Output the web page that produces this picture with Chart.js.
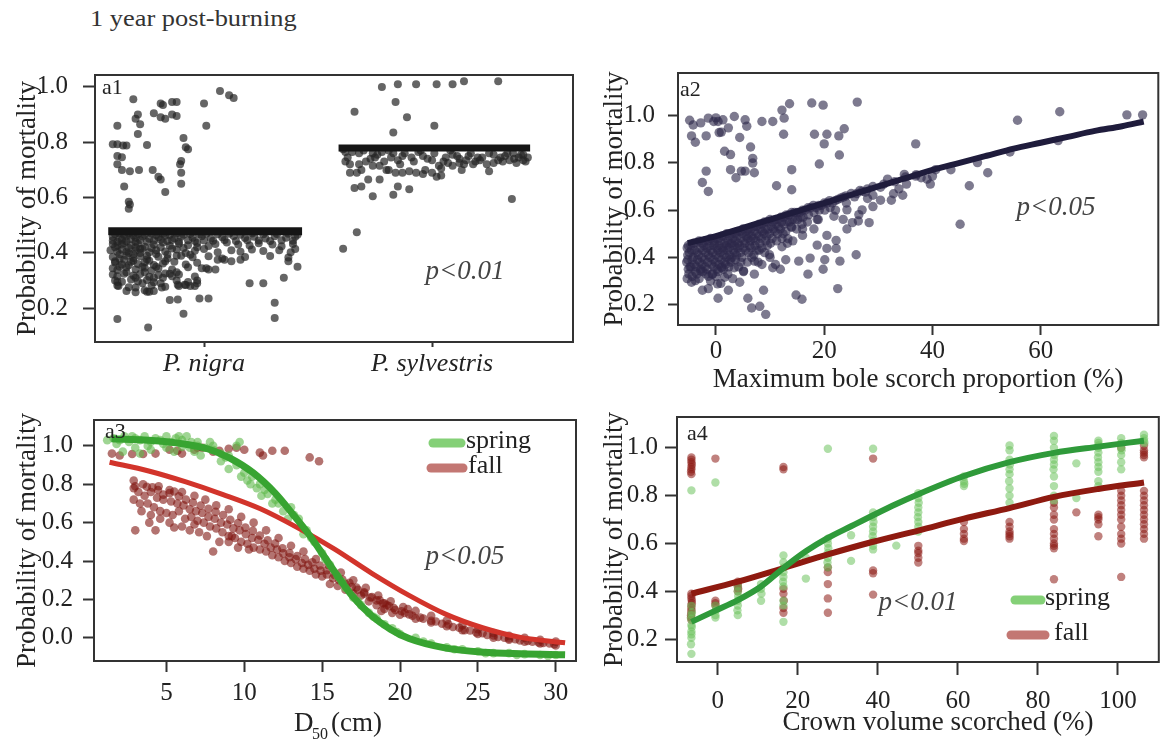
<!DOCTYPE html>
<html>
<head>
<meta charset="utf-8">
<script src="https://cdn.jsdelivr.net/npm/chart.js@4.4.1/dist/chart.umd.min.js"></script>
<style>
  body { margin: 0; background: #fff; width: 1163px; height: 744px; position: relative; overflow: hidden; }
  canvas { position: absolute; }
  #heading { position: absolute; left: 90px; top: 5px; font: 24px "Liberation Serif", serif; color: #333;
             transform: scaleX(1.1); transform-origin: left; white-space: nowrap; }
</style>
</head>
<body>
<div id="heading">1 year post-burning</div>
<canvas id="a1" width="580" height="345" style="left:0;top:45px"></canvas>
<canvas id="a2" width="578" height="352" style="left:585px;top:45px"></canvas>
<canvas id="a3" width="585" height="349" style="left:0;top:395px"></canvas>
<canvas id="a4" width="578" height="349" style="left:585px;top:395px"></canvas>
<script>
// ---- a1: species ----
const species = ["P. nigra", "P. sylvestris"];
const nigraFit = [[0.58, 0.478], [1.43, 0.478]];
const sylvFit = [[1.59, 0.779], [2.43, 0.779]];
const nigraPoints = [
  [0.69,0.955],[0.81,0.94],[0.82,0.935],[0.86,0.945],[0.88,0.945],[1.00,0.94],[1.07,0.985],[1.11,0.97],[1.13,0.96],
  [1.01,0.86],[0.62,0.86],[0.71,0.90],[0.70,0.885],[0.72,0.865],[0.78,0.905],[0.81,0.89],[0.83,0.885],[0.86,0.90],
  [0.88,0.895],[0.71,0.83],[0.60,0.793],[0.62,0.793],[0.645,0.788],[0.66,0.788],[0.75,0.79],[0.91,0.815],[0.92,0.782],
  [0.62,0.75],[0.64,0.746],[0.90,0.732],[0.895,0.72],[0.62,0.72],[0.64,0.70],[0.675,0.695],[0.715,0.70],[0.775,0.70],
  [0.80,0.675],[0.81,0.665],[0.65,0.64],[0.67,0.585],[0.675,0.575],[0.67,0.56],[0.83,0.62],[0.90,0.69],[0.90,0.65],
  [0.93,0.775],
  [0.60,0.458],[0.63,0.452],[0.66,0.461],[0.70,0.455],[0.73,0.459],[0.76,0.451],[0.80,0.457],[0.83,0.462],[0.87,0.453],
  [0.90,0.458],[0.95,0.455],[0.99,0.46],[1.03,0.452],[1.08,0.457],[1.13,0.461],[1.18,0.454],[1.22,0.458],[1.27,0.452],
  [1.31,0.46],[1.36,0.455],[1.40,0.458],
  [0.60,0.432],[0.62,0.425],[0.65,0.436],[0.68,0.428],[0.71,0.434],[0.74,0.422],[0.78,0.43],[0.82,0.438],[0.85,0.426],
  [0.89,0.433],[0.93,0.428],[0.97,0.436],[1.02,0.425],[1.05,0.432],[1.10,0.438],[1.15,0.43],[1.20,0.427],[1.24,0.435],
  [1.30,0.43],[1.34,0.424],[1.39,0.432],
  [0.59,0.41],[0.62,0.404],[0.64,0.412],[0.67,0.4],[0.70,0.408],[0.72,0.415],[0.76,0.402],[0.79,0.41],[0.83,0.405],
  [0.88,0.412],[0.92,0.4],[0.96,0.408],[1.00,0.414],[1.06,0.402],[1.12,0.41],[1.16,0.404],[1.21,0.412],[1.26,0.407],
  [1.33,0.41],[1.38,0.402],[1.40,0.414],
  [0.60,0.385],[0.63,0.378],[0.66,0.39],[0.69,0.382],[0.72,0.388],[0.75,0.376],[0.80,0.386],[0.84,0.38],[0.90,0.39],
  [0.95,0.384],[1.02,0.388],[1.08,0.38],[1.18,0.385],[1.29,0.389],[1.37,0.383],
  [0.61,0.365],[0.64,0.358],[0.68,0.368],[0.71,0.36],[0.74,0.366],[0.78,0.356],[0.82,0.362],[0.87,0.368],[0.92,0.358],
  [0.97,0.364],[1.06,0.375],[1.09,0.375],[1.37,0.37],[1.41,0.35],[1.12,0.37],[1.16,0.375],
  [0.60,0.345],[0.62,0.338],[0.66,0.348],[0.70,0.34],[0.74,0.346],[0.77,0.336],[0.80,0.344],[0.86,0.34],[0.93,0.348],
  [0.99,0.345],[1.02,0.34],[1.01,0.345],[1.05,0.34],
  [0.60,0.322],[0.62,0.316],[0.65,0.325],[0.69,0.318],[0.72,0.324],[0.76,0.314],[0.80,0.32],[0.83,0.326],[0.86,0.316],
  [0.89,0.322],[0.85,0.325],[0.88,0.33],
  [0.61,0.3],[0.64,0.296],[0.68,0.304],[0.71,0.298],[0.75,0.302],[0.78,0.294],[0.81,0.29],[0.88,0.3],[0.93,0.295],
  [0.97,0.3],[1.35,0.31],[1.26,0.29],[1.20,0.29],[0.62,0.295],[0.625,0.28],[0.82,0.31],[0.96,0.315],
  [0.62,0.282],[0.67,0.276],[0.70,0.275],[0.73,0.29],[0.77,0.282],[0.83,0.278],[0.89,0.28],[0.92,0.284],[0.96,0.28],
  [0.94,0.28],[0.915,0.285],[0.885,0.285],[0.97,0.29],[0.815,0.275],
  [0.66,0.262],[0.70,0.258],[0.74,0.265],[0.75,0.26],[0.76,0.26],[0.78,0.262],
  [0.85,0.23],[0.885,0.232],[0.98,0.235],[1.02,0.235],[1.31,0.22],
  [0.91,0.18],[1.31,0.165],[0.62,0.161],[0.755,0.13],
  [0.60,0.445],[0.61,0.468],[0.62,0.44],[0.63,0.47],[0.64,0.448],[0.65,0.465],[0.66,0.442],[0.67,0.47],[0.68,0.45],
  [0.69,0.463],[0.70,0.44],[0.71,0.468],[0.72,0.447],[0.74,0.466],[0.75,0.44],[0.77,0.47],[0.78,0.445],[0.79,0.465],
  [0.81,0.448],[0.82,0.469],[0.84,0.443],[0.85,0.466],[0.86,0.447],[0.88,0.47],[0.89,0.44],[0.91,0.466],[0.93,0.446],
  [0.94,0.468],[0.96,0.443],[0.98,0.467],[1.00,0.445],[1.01,0.469],[1.04,0.444],[1.06,0.467],[1.09,0.447],[1.11,0.469],
  [1.14,0.443],[1.16,0.466],[1.19,0.446],[1.21,0.47],[1.24,0.445],[1.26,0.467],[1.29,0.443],[1.32,0.468],[1.34,0.446],
  [1.37,0.469],[1.39,0.444],[1.41,0.466],
  [0.61,0.42],[0.63,0.395],[0.64,0.43],[0.66,0.405],[0.67,0.418],[0.69,0.395],[0.70,0.42],[0.72,0.4],[0.73,0.415],
  [0.75,0.39],[0.77,0.418],[0.79,0.396],[0.81,0.42],[0.84,0.394],[0.86,0.416],[0.88,0.39],[0.91,0.418],[0.94,0.393],
  [0.97,0.42],[0.61,0.37],[0.63,0.35],[0.65,0.375],[0.67,0.355],[0.69,0.372],[0.73,0.35],[0.76,0.372],[0.79,0.35],
  [0.83,0.37],[0.66,0.33],[0.70,0.31],[0.74,0.33],[0.78,0.31]
];
const sylvPoints = [
  [1.78,1.0],[1.85,1.01],[1.93,1.01],[2.02,1.01],[2.09,1.01],[2.14,1.02],[2.29,1.02],[1.84,0.945],[1.66,0.91],
  [1.89,0.89],[1.83,0.835],[2.01,0.86],
  [1.62,0.765],[1.63,0.745],[1.62,0.73],[1.64,0.69],[1.68,0.72],[1.68,0.76],[1.71,0.73],[1.74,0.76],[1.75,0.745],
  [1.77,0.715],[1.78,0.765],[1.82,0.745],[1.83,0.76],[1.86,0.72],[1.88,0.76],[1.91,0.745],[1.94,0.765],[1.96,0.75],
  [2.00,0.735],[2.03,0.715],[2.06,0.745],[2.09,0.755],[2.12,0.74],[2.16,0.75],[2.19,0.73],[2.22,0.745],[2.25,0.76],
  [2.29,0.735],[2.32,0.75],[2.355,0.76],[2.38,0.745],[2.40,0.735],[2.40,0.755],[2.12,0.725],[2.07,0.725],[2.04,0.705],
  [2.09,0.715],[2.18,0.72],[2.20,0.745],[2.30,0.745],[2.34,0.735],
  [1.74,0.715],[1.80,0.70],[1.84,0.69],[1.90,0.695],[1.93,0.69],[1.96,0.685],[2.00,0.69],[2.04,0.68],[1.81,0.70],
  [1.87,0.69],[1.66,0.635],[1.69,0.64],[1.72,0.665],[1.74,0.605],[1.83,0.61],[1.85,0.64],[1.90,0.63],[1.77,0.665],
  [2.02,0.675],[2.25,0.695],[2.35,0.595],[1.67,0.69],[2.15,0.735],[2.27,0.725],[2.37,0.725],[2.41,0.73],
  [1.61,0.415],[1.67,0.475],
  [1.61,0.775],[1.65,0.765],[1.70,0.77],[1.73,0.74],[1.76,0.755],[1.79,0.73],[1.81,0.77],[1.85,0.735],[1.87,0.75],
  [1.92,0.73],[1.95,0.77],[1.98,0.74],[2.01,0.76],[2.05,0.73],[2.08,0.77],[2.11,0.75],[2.14,0.72],[2.17,0.76],
  [2.21,0.735],[2.24,0.72],[2.27,0.755],[2.31,0.73],[2.33,0.76],[2.36,0.74],[2.39,0.755],[2.42,0.745],[1.64,0.72],
  [1.69,0.70],[1.97,0.70],[2.13,0.70]
];

// ---- a2: maximum bole scorch ----
const scorchTicks = [0, 20, 40, 60];
const scorchFit = [[-5.2,0.46],[0,0.49],[5,0.525],[10,0.56],[15,0.595],[20,0.63],[25,0.665],[30,0.70],[35,0.735],
  [40,0.77],[45,0.80],[50,0.83],[55,0.86],[60,0.885],[65,0.91],[70,0.935],[75,0.955],[79,0.975]];
const scorchPoints = [
  [-4.85,0.98],[-4.5,0.914],[-3.8,0.887],[-2.8,0.969],[-1.4,0.989],[-0.4,0.975],[0.6,0.928],[1.3,0.982],[2.3,0.948],
  [3.4,0.996],[4.4,0.907],[5.4,0.982],[5.7,0.955],[6.4,0.867],[8.5,0.975],[10.5,0.975],[12.2,1.023],[12.6,0.989],
  [13.6,1.05],[12.5,0.921],[17.7,1.053],[19.8,1.044],[20.0,0.88],[18.2,0.921],[20.5,0.921],[22.7,0.914],[23.7,0.944],
  [22.8,0.833],[19.1,0.795],[26.1,1.057],[14.0,0.771],[11.2,0.703],[14.0,0.686],[-1.8,0.765],[-2.5,0.717],[-1.4,0.679],
  [1.6,0.849],[2.7,0.835],[2.7,0.771],[3.7,0.737],[4.7,0.765],[5.4,0.765],[6.8,0.819],[6.8,0.799],[7.1,0.758],
  [0.4,0.975],[-1.8,0.914],[-4.2,0.96],[0.0,0.99],[1.0,0.93],
  [36.9,0.88],[36.9,0.744],[40.0,0.744],[40.6,0.771],[39.6,0.71],[43.4,0.771],[46.8,0.703],[48.3,0.801],[50.2,0.758],
  [45.1,0.54],[54.3,0.846],[55.7,0.98],[63.2,0.894],[63.5,1.016],[75.9,1.003],[78.8,1.003],[34.8,0.751],[32.8,0.669],
  [33.8,0.69],[31.7,0.731],[30.4,0.697],[29.0,0.663],[28.0,0.649],[27.6,0.676],[26.6,0.683],[25.6,0.656],[28.3,0.547],
  [26.4,0.581],[26.3,0.554],[25.9,0.411],[22.5,0.268],[24.2,0.601],[22.2,0.472],[20.5,0.493],[20.1,0.39],[19.8,0.35],
  [17.4,0.397],[17.0,0.329],[15.3,0.384],[14.8,0.241],[15.9,0.223],[12.9,0.39],[11.9,0.35],[10.5,0.356],[8.8,0.261],
  [8.1,0.193],[9.2,0.159],[6.6,0.186],[5.9,0.227],[0.4,0.227],[22.9,0.384],[18.7,0.452],[16.0,0.493],[23.5,0.561],
  [21.8,0.574],[18.7,0.561],[16.0,0.52],[18.1,0.52],[14.0,0.527],[13.3,0.479],[12.2,0.445],[9.9,0.411],[8.5,0.37],
  [7.1,0.329],[7.1,0.384],[4.4,0.295],[2.3,0.261],[1.6,0.316],[0.3,0.288],[-1.4,0.268],[-2.5,0.261],[-4.5,0.295],
  [-3.8,0.302],[-0.7,0.329],[1.0,0.356],[3.4,0.356],[5.1,0.343],[-2.8,0.343],[22.2,0.438],[20.5,0.438],[24.2,0.52],
  [25.2,0.547],[27.0,0.601],[29.0,0.615],[30.4,0.642],[32.4,0.642],[34.5,0.663],[35.2,0.71],[37.9,0.737],[39.0,0.731],
  [-5.1,0.45],[-4.9,0.42],[-5.2,0.39],[-4.8,0.36],[-5.0,0.33],[-4.1,0.46],[-3.9,0.43],[-4.2,0.40],[-4.0,0.37],[-3.8,0.34],
  [-3.1,0.47],[-2.9,0.44],[-3.2,0.41],[-3.0,0.38],[-2.8,0.35],[-3.1,0.31],[-2.0,0.47],[-2.2,0.45],[-1.9,0.42],[-2.1,0.39],
  [-2.0,0.36],[-1.8,0.33],[-1.0,0.48],[-1.2,0.45],[-0.9,0.43],[-1.1,0.40],[-0.8,0.37],[-1.0,0.30],[0.1,0.48],[-0.2,0.46],
  [0.2,0.44],[0.0,0.41],[-0.1,0.38],[0.2,0.35],[0.0,0.32],[1.1,0.49],[0.9,0.47],[1.2,0.44],[0.8,0.42],[1.0,0.39],
  [1.1,0.36],[0.9,0.29],[2.0,0.50],[2.2,0.47],[1.9,0.45],[2.1,0.43],[2.0,0.40],[1.8,0.37],[2.2,0.33],[3.0,0.50],
  [3.1,0.48],[2.9,0.46],[3.2,0.43],[3.0,0.40],[2.8,0.38],[3.1,0.31],[4.0,0.51],[3.9,0.49],[4.1,0.46],[4.0,0.44],
  [3.8,0.41],[4.2,0.36],[5.0,0.52],[4.9,0.50],[5.2,0.47],[5.0,0.44],[4.8,0.40],[5.1,0.34],[6.0,0.52],[6.1,0.50],
  [5.9,0.48],[6.2,0.45],[6.0,0.42],[5.8,0.38],[7.0,0.53],[7.1,0.51],[6.9,0.48],[7.2,0.45],[7.0,0.41],[8.0,0.54],
  [8.2,0.52],[7.9,0.49],[8.1,0.46],[8.0,0.43],[7.8,0.38],[9.0,0.55],[9.1,0.52],[8.9,0.50],[9.2,0.47],[9.0,0.42],
  [10.0,0.56],[10.2,0.53],[9.9,0.50],[10.1,0.46],[10.0,0.40],[11.0,0.56],[11.1,0.54],[10.9,0.51],[11.2,0.47],[11.0,0.37],
  [12.0,0.57],[12.1,0.55],[11.9,0.52],[12.2,0.48],[13.0,0.58],[13.1,0.55],[12.9,0.51],[13.2,0.46],[14.0,0.59],[14.1,0.56],
  [13.9,0.53],[14.2,0.47],[15.0,0.59],[15.1,0.56],[14.9,0.52],[16.0,0.60],[16.1,0.57],[15.9,0.54],[17.0,0.61],[17.1,0.58],
  [16.9,0.55],[18.0,0.62],[18.1,0.59],[19.0,0.62],[19.1,0.60],[18.9,0.56],[20.0,0.63],[20.1,0.60],[21.0,0.64],[21.1,0.61],
  [22.0,0.64],[22.1,0.60],[23.0,0.65],[24.0,0.66],[24.1,0.63],[25.0,0.67],[26.0,0.67],[27.0,0.68],[28.0,0.69],[29.0,0.70],
  [31.0,0.71],[33.0,0.72],[35.0,0.74],[37.0,0.75],
  [-5.3,0.44],[-5.2,0.41],[-5.4,0.38],[-5.1,0.35],[-5.3,0.31],[-4.6,0.45],[-4.5,0.43],[-4.4,0.39],[-4.6,0.36],
  [-4.4,0.32],[-3.6,0.46],[-3.5,0.42],[-3.4,0.39],[-3.6,0.36],[-3.5,0.33],[-2.5,0.46],[-2.4,0.43],[-2.6,0.40],
  [-2.5,0.37],[-2.4,0.34],[-1.5,0.47],[-1.6,0.44],[-1.4,0.41],[-1.5,0.38],[-1.6,0.35],[-1.4,0.32],[-0.5,0.47],
  [-0.4,0.45],[-0.6,0.42],[-0.5,0.39],[-0.4,0.36],[-0.6,0.33],[0.5,0.48],[0.6,0.45],[0.4,0.43],[0.5,0.40],[0.6,0.37],
  [0.4,0.34],[1.5,0.49],[1.6,0.46],[1.4,0.43],[1.5,0.41],[1.6,0.38],[1.4,0.35],[2.5,0.49],[2.6,0.46],[2.4,0.44],
  [2.5,0.41],[2.6,0.39],[2.4,0.36],[3.5,0.50],[3.6,0.47],[3.4,0.45],[3.5,0.42],[3.6,0.39],[4.5,0.51],[4.6,0.48],
  [4.4,0.45],[4.5,0.42],[4.6,0.38],[5.5,0.51],[5.6,0.49],[5.4,0.46],[5.5,0.43],[6.5,0.52],[6.6,0.49],[6.4,0.47],
  [6.5,0.44],[6.6,0.40],[7.5,0.53],[7.6,0.50],[7.4,0.47],[7.5,0.43],[8.5,0.54],[8.6,0.51],[8.4,0.48],[8.5,0.44],
  [9.5,0.55],[9.6,0.52],[9.4,0.49],[9.5,0.45],[10.5,0.55],[10.6,0.52],[10.4,0.48],[11.5,0.56],[11.6,0.53],[11.4,0.50],
  [12.5,0.57],[12.6,0.54],[12.4,0.50],[13.5,0.58],[13.6,0.55],[14.5,0.59],[14.6,0.56],[15.5,0.59],[15.6,0.57],
  [16.5,0.60],[17.5,0.61],[18.5,0.61],[19.5,0.62],[20.5,0.63],[21.5,0.63],[22.5,0.645],[23.5,0.655]
];

// ---- a3: D50 ----
const diamTicks = [5, 10, 15, 20, 25, 30];
const springFitD = [[1.47,1.037],[3.86,1.03],[6.25,1.009],[7.68,0.984],[9.11,0.935],[10.55,0.861],[11.98,0.754],
  [13.17,0.639],[14.13,0.541],[14.84,0.459],[15.8,0.344],[16.99,0.212],[18.19,0.114],[19.38,0.045],[20.58,-0.004],
  [22.96,-0.054],[25.35,-0.075],[27.74,-0.083],[30.6,-0.088]];
const fallFitD = [[1.35,0.915],[3.86,0.869],[6.25,0.812],[8.64,0.746],[11.03,0.672],[13.41,0.574],[15.8,0.462],
  [18.19,0.336],[20.58,0.221],[22.96,0.122],[25.35,0.051],[27.74,0.002],[30.6,-0.026]];
const springPointsD = [
  [1.2,1.03],[1.6,1.04],[2.0,1.03],[2.3,1.05],[2.6,1.02],[3.0,1.04],[3.3,1.03],[3.6,1.05],[4.0,1.02],[4.3,1.04],
  [4.6,1.03],[5.0,1.05],[5.3,1.02],[5.6,1.04],[6.0,1.03],[6.3,1.05],[6.6,1.02],[7.0,1.02],[2.2,0.97],[3.3,0.96],
  [3.0,0.99],[4.0,0.98],[5.0,0.99],[5.5,0.97],[6.0,0.995],[7.0,1.0],[7.5,0.99],[8.0,0.98],[8.5,0.96],[9.0,0.95],
  [9.5,1.0],[9.7,1.02],[8.0,1.0],[6.8,0.97],[7.2,0.95],[8.5,0.92],[9.0,0.88],[9.5,0.9],[10.0,0.86],[10.2,0.82],
  [10.5,0.84],[11.0,0.8],[11.3,0.77],[11.5,0.75],[12.0,0.72],[12.2,0.70],[9.8,0.84],[10.8,0.78],[11.8,0.70],[12.5,0.66],
  [13.0,0.68],[13.5,0.62],[14.0,0.56],[14.5,0.50],[15.0,0.44],[15.5,0.38],[16.0,0.32],[16.5,0.26],[17.0,0.21],[17.5,0.17],
  [18.0,0.13],[18.5,0.10],[19.0,0.07],[19.5,0.05],[20.0,0.02],[21.0,0.0],[22.0,-0.03],[23.0,-0.05],[24.0,-0.06],
  [25.0,-0.07],[26.0,-0.08],[27.0,-0.08],[28.0,-0.085],[29.0,-0.09],[30.0,-0.09],[13.2,0.64],[14.3,0.52],[15.2,0.41],
  [16.3,0.29],[17.3,0.19],[18.3,0.11],[19.8,0.03],[21.5,-0.02],[23.5,-0.06],[25.5,-0.08],[27.5,-0.09],[29.5,-0.095],
  [1.8,1.01],[2.8,1.05],[3.8,1.0],[4.8,1.01],[5.8,1.05],[6.5,0.99],[7.8,1.02],[8.8,0.94],[10.4,0.8],[11.1,0.74],
  [12.8,0.62],[13.8,0.54]
];
const fallPointsD = [
  [1.5,0.96],[2.0,0.95],[2.8,0.958],[3.5,0.958],[4.3,0.96],[5.2,0.98],[5.7,0.975],[6.0,0.96],[6.8,0.98],[7.0,0.99],
  [7.3,0.99],[8.0,0.97],[8.4,0.975],[9.0,0.985],[9.5,0.99],[10.0,0.98],[11.0,0.965],[11.2,0.95],[11.8,0.975],
  [12.6,0.975],[14.2,0.94],[14.8,0.92],
  [2.9,0.82],[3.0,0.79],[3.74,0.787],[4.1,0.784],[4.46,0.77],[4.8,0.746],[5.2,0.754],[5.5,0.762],[5.8,0.738],
  [6.25,0.72],[6.7,0.705],[7.2,0.689],[7.7,0.672],[8.16,0.656],[8.64,0.64],[9.1,0.615],[9.6,0.598],[10.07,0.574],
  [10.55,0.557],[11.0,0.533],[11.5,0.508],[11.98,0.491],[12.45,0.467],[12.9,0.442],[13.4,0.426],[13.9,0.41],
  [14.37,0.393],[14.85,0.377],[15.3,0.352],[15.8,0.327],[16.3,0.303],[16.75,0.286],[17.2,0.262],[17.7,0.237],
  [18.2,0.212],[18.7,0.196],[19.14,0.171],[19.6,0.155],[20.1,0.138],[20.58,0.122],[21.3,0.105],[22.0,0.089],
  [22.7,0.073],[23.4,0.056],[24.15,0.04],[24.9,0.028],[25.6,0.015],[26.3,0.004],[27.0,-0.004],[27.7,-0.014],
  [28.5,-0.021],[29.2,-0.027],[29.9,-0.034],
  [2.9,0.72],[3.3,0.70],[3.8,0.70],[4.2,0.68],[4.6,0.66],[5.0,0.65],[5.4,0.64],[5.8,0.66],[6.2,0.62],[6.6,0.63],
  [7.0,0.61],[7.4,0.60],[7.8,0.58],[8.2,0.57],[8.6,0.55],[9.0,0.53],[9.4,0.52],[9.8,0.50],[10.2,0.49],[10.6,0.47],
  [11.0,0.46],[11.4,0.45],[11.8,0.43],[12.2,0.42],[12.6,0.40],[13.0,0.39],[13.4,0.37],[13.8,0.36],[14.2,0.35],
  [14.6,0.33],[15.0,0.32],[8.0,0.45],[5.5,0.575],[4.3,0.56],[3.0,0.56],[9.2,0.53],[6.8,0.59],[7.1,0.55],[9.0,0.50],
  [10.3,0.46],[15.5,0.28],[16.0,0.27],[16.5,0.25],[17.0,0.23],[17.5,0.22],[18.0,0.19],[18.5,0.17],[19.0,0.15],
  [19.5,0.13],[20.0,0.12],[21.0,0.10],[22.0,0.08],[23.0,0.06],[24.0,0.04],[25.0,0.02],[26.0,0.0],[27.0,-0.01],
  [28.0,-0.02],[29.0,-0.03],[30.0,-0.04],
  [3.5,0.80],[4.5,0.79],[5.2,0.77],[6.0,0.76],[6.8,0.74],[7.5,0.72],[8.2,0.69],[9.0,0.67],[9.8,0.63],[10.6,0.60],
  [11.4,0.56],[12.2,0.52],[13.0,0.48],[13.8,0.45],[14.6,0.41],[15.4,0.38],[16.2,0.34],[17.0,0.30],[17.8,0.26],
  [18.6,0.22],[19.4,0.19],[20.2,0.16],[21.0,0.14],[22.0,0.115],[23.0,0.09],[24.0,0.065],[25.0,0.045],[26.0,0.025],
  [27.0,0.01],[28.0,0.0],[29.0,-0.01],[30.0,-0.02],[19.0,0.18],[20.5,0.15],[18.8,0.14],
  [3.2,0.76],[3.6,0.74],[4.0,0.76],[4.4,0.73],[4.8,0.72],[5.3,0.71],[5.7,0.70],[6.1,0.69],[6.5,0.67],[6.9,0.66],
  [7.3,0.65],[7.7,0.63],[8.1,0.62],[8.5,0.60],[8.9,0.59],[9.3,0.57],[9.7,0.56],[10.1,0.54],[10.5,0.52],[10.9,0.51],
  [11.3,0.49],[11.7,0.47],[12.1,0.46],[12.5,0.44],[12.9,0.42],[13.3,0.41],[13.7,0.39],[14.1,0.38],[14.5,0.36],
  [14.9,0.35],[15.3,0.33],[15.7,0.31],[16.1,0.30],[16.5,0.28],[16.9,0.265],[17.3,0.25],[17.7,0.23],[18.1,0.21],
  [18.5,0.195],[18.9,0.18],[19.3,0.165],[19.7,0.145],[20.3,0.13],[20.8,0.115],[21.5,0.1],[22.3,0.085],[23.1,0.07],
  [23.8,0.052],[24.5,0.038],[25.3,0.024],[26.0,0.012],[26.7,0.0],[27.4,-0.008],[28.2,-0.016],[28.9,-0.024],[29.6,-0.03],
  [3.4,0.66],[4.0,0.64],[4.6,0.62],[5.2,0.6],[6.0,0.58],[6.5,0.56],[7.6,0.53],[8.4,0.5],[9.6,0.47],[3.9,0.6],[2.9,0.78]
];

// ---- a4: crown volume scorched ----
const crownTicks = [0, 20, 40, 60, 80, 100];
const springFitC = [[-6.6,0.272],[-0.6,0.319],[5,0.363],[10.8,0.42],[16.4,0.497],[22,0.567],[27.5,0.623],[33.3,0.672],
  [38.8,0.718],[44.6,0.765],[50.1,0.806],[61.5,0.882],[72.9,0.94],[84,0.979],[95.1,1.005],[106.5,1.03]];
const fallFitC = [[-6.6,0.39],[5,0.44],[16.4,0.497],[27.5,0.554],[38.8,0.607],[50.1,0.654],[61.5,0.704],[72.9,0.748],
  [84,0.795],[95.1,0.828],[106.5,0.855]];
const springPointsC = [
  [-6.6,0.822],[-6.6,0.339],[-6.5,0.312],[-6.6,0.30],[-6.7,0.285],[-6.6,0.259],[-6.5,0.25],[-6.6,0.232],[-6.6,0.22],
  [-6.6,0.205],[-6.7,0.178],[-6.6,0.138],[-0.6,0.855],[-0.6,0.34],[-0.5,0.32],[-0.6,0.30],[-0.6,0.29],
  [5.0,0.42],[5.0,0.40],[5.1,0.38],[5.0,0.36],[5.0,0.34],[4.9,0.32],[5.0,0.30],[10.8,0.43],[10.8,0.41],[10.9,0.39],
  [10.8,0.36],[16.4,0.55],[16.4,0.52],[16.5,0.50],[16.4,0.48],[16.4,0.46],[16.3,0.44],[16.4,0.42],[16.4,0.36],
  [16.4,0.34],[16.4,0.272],[22.0,0.54],[22.0,0.453],[27.5,0.996],[27.5,0.62],[27.5,0.60],[27.6,0.58],[27.5,0.56],
  [27.5,0.54],[27.4,0.52],[27.5,0.50],[33.3,0.634],[33.3,0.527],[38.8,0.996],[38.8,0.73],[38.8,0.71],[38.9,0.69],
  [38.8,0.67],[38.8,0.65],[38.7,0.63],[38.8,0.61],[38.8,0.59],[38.8,0.575],[44.6,0.591],[50.1,0.81],[50.1,0.79],
  [50.2,0.77],[50.1,0.75],[50.1,0.73],[50.0,0.71],[50.1,0.69],[50.1,0.67],[50.1,0.65],[61.5,0.88],[61.5,0.86],
  [61.6,0.85],[61.5,0.84],[72.9,1.01],[72.9,0.99],[72.9,0.95],[73.0,0.93],[72.9,0.91],[72.9,0.89],[72.8,0.86],
  [72.9,0.83],[72.9,0.80],[72.9,0.77],[84.0,1.05],[84.0,1.03],[84.0,1.0],[84.1,0.97],[84.0,0.95],[84.0,0.93],
  [83.9,0.91],[84.0,0.88],[84.0,0.84],[84.0,0.80],[84.0,0.78],[89.6,0.935],[89.6,0.79],[95.1,1.03],[95.1,1.02],
  [95.2,1.01],[95.1,1.0],[95.1,0.98],[95.0,0.96],[95.1,0.94],[95.1,0.92],[95.1,0.90],[95.1,0.86],[95.1,0.84],
  [100.8,1.04],[100.8,1.02],[100.8,1.0],[100.9,0.99],[100.8,0.97],[100.8,0.94],[100.8,0.91],[106.5,1.055],
  [106.5,1.04],[106.5,1.03],[106.6,1.02]
];
const fallPointsC = [
  [-6.6,0.96],[-6.6,0.95],[-6.6,0.94],[-6.5,0.93],[-6.6,0.92],[-6.6,0.91],[-6.7,0.90],[-6.6,0.89],[-6.6,0.39],
  [-6.6,0.38],[-6.6,0.37],[-6.5,0.36],[-6.5,0.35],[-6.6,0.34],[-6.6,0.33],[-6.6,0.32],[-6.6,0.31],[-6.7,0.30],
  [-6.7,0.29],[-6.6,0.28],[-0.6,0.955],[-0.6,0.36],[-0.6,0.35],[-0.6,0.34],[5.0,0.44],[5.0,0.43],[5.0,0.42],
  [5.1,0.41],[5.0,0.40],[16.4,0.92],[16.4,0.91],[16.4,0.41],[16.4,0.39],[16.5,0.36],[16.4,0.33],[16.4,0.31],
  [27.5,0.50],[27.5,0.48],[27.5,0.43],[27.5,0.37],[27.5,0.31],[38.8,0.955],[38.8,0.487],[38.8,0.475],[38.8,0.386],
  [50.1,0.59],[50.1,0.57],[50.1,0.56],[50.1,0.54],[50.1,0.52],[61.5,0.69],[61.5,0.66],[61.5,0.64],[61.5,0.62],
  [61.5,0.61],[72.9,0.69],[72.9,0.67],[72.9,0.65],[72.9,0.64],[72.9,0.63],[72.9,0.62],[84.0,0.77],[84.0,0.75],
  [84.0,0.72],[84.0,0.70],[84.0,0.66],[84.0,0.64],[84.0,0.62],[84.0,0.60],[84.0,0.59],[84.0,0.58],[84.0,0.45],
  [89.6,0.73],[95.1,0.72],[95.1,0.71],[95.1,0.70],[95.1,0.68],[95.1,0.63],[100.8,1.0],[100.8,0.82],[100.8,0.80],
  [100.8,0.78],[100.8,0.76],[100.8,0.74],[100.8,0.72],[100.8,0.70],[100.8,0.67],[100.8,0.64],[100.8,0.62],
  [100.8,0.60],[100.8,0.46],[106.5,1.01],[106.5,0.99],[106.5,0.98],[106.5,0.97],[106.5,0.96],[106.5,0.82],
  [106.5,0.80],[106.5,0.78],[106.5,0.76],[106.5,0.74],[106.5,0.72],[106.5,0.70],[106.5,0.68],[106.5,0.66],
  [106.5,0.64],[106.5,0.62]
];

const probTicks = [0.2, 0.4, 0.6, 0.8, 1.0];
const probTicksD = [0.0, 0.2, 0.4, 0.6, 0.8, 1.0];

const serif = "'Liberation Serif', 'Times New Roman', serif";
Chart.defaults.font.family = serif;
Chart.defaults.color = "#222";

const xy = (arr) => arr.map((p) => ({ x: p[0], y: p[1] }));

// frame, annotation text and legend keys
const decoPlugin = {
  id: "deco",
  afterDatasetsDraw(chart, args, opts) {
    const { ctx, chartArea: a } = chart;
    ctx.save();
    ctx.strokeStyle = "#333";
    ctx.lineWidth = 2;
    ctx.strokeRect(a.left, a.top, a.right - a.left, a.bottom - a.top);
    (opts.keys || []).forEach((k) => {
      ctx.strokeStyle = k.color;
      ctx.lineWidth = 9;
      ctx.lineCap = "round";
      ctx.beginPath();
      ctx.moveTo(k.x1, k.y);
      ctx.lineTo(k.x2, k.y);
      ctx.stroke();
    });
    (opts.texts || []).forEach((t) => {
      ctx.font = t.font;
      ctx.fillStyle = t.color || "#222";
      ctx.textAlign = t.align || "left";
      ctx.textBaseline = "middle";
      ctx.fillText(t.text, t.x, t.y);
    });
    ctx.restore();
  },
};
Chart.register(decoPlugin);

function yAxis(min, max, ticks, width, pad, titlePad, tickLen) {
  return {
    type: "linear", min: min, max: max,
    afterFit: (s) => { s.width = width; },
    afterBuildTicks: (s) => { s.ticks = ticks.map((v) => ({ value: v })); },
    grid: { drawOnChartArea: false, tickLength: tickLen, tickWidth: 2, tickColor: "#333" },
    border: { display: false },
    ticks: { padding: pad, font: { size: 25 }, color: "#222", callback: (v) => v.toFixed(1) },
    title: { display: true, text: "Probability of mortality", font: { size: 27 }, color: "#222", padding: { top: titlePad } },
  };
}

function xAxis(min, max, ticks, height, pad, tickLen, extra) {
  return Object.assign({
    type: "linear", min: min, max: max,
    afterFit: (s) => { s.height = height; },
    afterBuildTicks: (s) => { s.ticks = ticks.map((v) => ({ value: v })); },
    grid: { drawOnChartArea: false, tickLength: tickLen, tickWidth: 2, tickColor: "#333" },
    border: { display: false },
    ticks: { padding: pad, font: { size: 25 }, color: "#222", maxRotation: 0, autoSkip: false },
  }, extra || {});
}

function baseOptions(padTop, padRight, scales, deco) {
  return {
    responsive: false, animation: false, events: [],
    layout: { padding: { top: padTop, right: padRight, left: 0, bottom: 0 } },
    plugins: { legend: { display: false }, tooltip: { enabled: false }, deco: deco },
    scales: scales,
  };
}

const pText = "italic 27px " + serif;
const tagText = "22px " + serif;
const keyText = "26px " + serif;

// a1
new Chart(document.getElementById("a1"), {
  type: "scatter",
  data: {
    datasets: [
      { data: xy(nigraFit), showLine: true, borderColor: "#151515", borderWidth: 8, pointRadius: 0, order: 0 },
      { data: xy(sylvFit), showLine: true, borderColor: "#151515", borderWidth: 7, pointRadius: 0, order: 0 },
      { data: xy(nigraPoints), backgroundColor: "rgba(35,35,35,0.7)", pointRadius: 4, borderWidth: 0, order: 1 },
      { data: xy(sylvPoints), backgroundColor: "rgba(35,35,35,0.7)", pointRadius: 4, borderWidth: 0, order: 1 },
    ],
  },
  options: baseOptions(22, 7, {
    x: xAxis(0.522, 2.618, [1, 2], 48, 2, 5, {
      ticks: { padding: 2, font: { size: 26, style: "italic" }, color: "#222", maxRotation: 0, autoSkip: false,
               callback: (v) => species[v - 1] },
    }),
    y: yAxis(0.078, 1.043, probTicks, 95, 15, 12, 12),
  }, {
    texts: [
      { text: "a1", x: 102, y: 43, font: tagText },
      { text: "p<0.01", x: 465, y: 227, font: pText, color: "#444", align: "center" },
    ],
  }),
});

// a2
new Chart(document.getElementById("a2"), {
  type: "scatter",
  data: {
    datasets: [
      { data: xy(scorchFit), showLine: true, borderColor: "#1f1c3c", borderWidth: 6, pointRadius: 0,
        cubicInterpolationMode: "monotone", order: 0 },
      { data: xy(scorchPoints), backgroundColor: "rgba(45,40,75,0.62)", pointRadius: 4.7, borderWidth: 0, order: 1 },
    ],
  },
  options: baseOptions(20, 4, {
    x: xAxis(-7.0, 81.7, scorchTicks, 72, 1, 10, {
      title: { display: true, text: "Maximum bole scorch proportion (%)", font: { size: 27 }, color: "#222",
               padding: { top: 0, bottom: 1 } },
    }),
    y: yAxis(0.114, 1.18, probTicks, 93, 13, 14, 10),
  }, {
    texts: [
      { text: "a2", x: 95, y: 45, font: tagText },
      { text: "p<0.05", x: 471, y: 163, font: pText, color: "#444", align: "center" },
    ],
  }),
});

// a3
new Chart(document.getElementById("a3"), {
  type: "scatter",
  data: {
    datasets: [
      { data: xy(springFitD), showLine: true, borderColor: "#38a431", borderWidth: 7, pointRadius: 0,
        cubicInterpolationMode: "monotone", order: 0 },
      { data: xy(fallFitD), showLine: true, borderColor: "#d2342b", borderWidth: 5, pointRadius: 0,
        cubicInterpolationMode: "monotone", order: 1 },
      { data: xy(springPointsD), backgroundColor: "rgba(95,185,75,0.6)", pointRadius: 4.3, borderWidth: 0, order: 2 },
      { data: xy(fallPointsD), backgroundColor: "rgba(128,22,16,0.6)", pointRadius: 4.3, borderWidth: 0, order: 3 },
    ],
  },
  options: baseOptions(11, 9, {
    x: xAxis(0.35, 31.3, diamTicks, 83, 6, 11),
    y: yAxis(-0.121, 1.135, probTicksD, 94, 10, 12, 11),
  }, {
    keys: [
      { x1: 433, x2: 461, y: 48, color: "rgba(110,200,95,0.85)" },
      { x1: 431, x2: 463, y: 73, color: "rgba(185,95,90,0.85)" },
    ],
    texts: [
      { text: "a3", x: 105, y: 37, font: tagText },
      { text: "spring", x: 466, y: 46, font: keyText },
      { text: "fall", x: 468, y: 71, font: keyText },
      { text: "p<0.05", x: 465, y: 162, font: pText, color: "#444", align: "center" },
      { text: "D", x: 294, y: 329, font: "27px " + serif },
      { text: "50", x: 312, y: 340, font: "16px " + serif },
      { text: "(cm)", x: 331, y: 329, font: "27px " + serif },
    ],
  }),
});

// a4
new Chart(document.getElementById("a4"), {
  type: "scatter",
  data: {
    datasets: [
      { data: xy(springFitC), showLine: true, borderColor: "#2f9a3a", borderWidth: 6, pointRadius: 0,
        cubicInterpolationMode: "monotone", order: 0 },
      { data: xy(fallFitC), showLine: true, borderColor: "#8e1a10", borderWidth: 6, pointRadius: 0,
        cubicInterpolationMode: "monotone", order: 1 },
      { data: xy(springPointsC), backgroundColor: "rgba(110,195,95,0.55)", pointRadius: 4.2, borderWidth: 0, order: 2 },
      { data: xy(fallPointsC), backgroundColor: "rgba(140,25,20,0.55)", pointRadius: 4.2, borderWidth: 0, order: 3 },
    ],
  },
  options: baseOptions(12, 3, {
    x: xAxis(-10.2, 110.2, crownTicks, 82, 11, 13),
    y: yAxis(0.104, 1.129, probTicks, 92, 7, 14, 12),
  }, {
    keys: [
      { x1: 430, x2: 456, y: 205, color: "rgba(110,200,95,0.85)" },
      { x1: 426, x2: 460, y: 240, color: "rgba(185,95,90,0.85)" },
    ],
    texts: [
      { text: "a4", x: 102, y: 39, font: tagText },
      { text: "spring", x: 460, y: 203, font: keyText },
      { text: "fall", x: 469, y: 238, font: keyText },
      { text: "p<0.01", x: 333, y: 208, font: pText, color: "#444", align: "center" },
      { text: "Crown volume scorched (%)", x: 353, y: 328, font: "27px " + serif, align: "center" },
    ],
  }),
});
</script>
</body>
</html>
